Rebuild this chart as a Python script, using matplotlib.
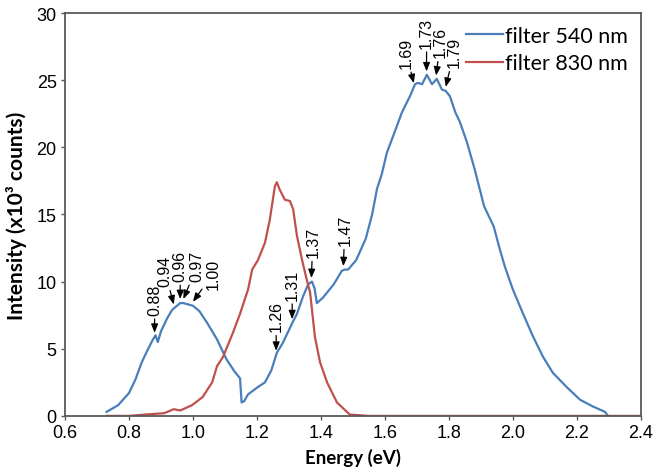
import numpy as np
import matplotlib
matplotlib.use('Agg')
from matplotlib import pyplot

# filter 540 nm (blue) spectrum, energy in eV, intensity in 10^3 counts
energy_540 = [0.73, 0.766, 0.80, 0.82, 0.84, 0.86, 0.875, 0.883, 0.89, 0.90,
              0.92, 0.935, 0.95, 0.96, 0.97, 0.985, 1.00, 1.02, 1.045, 1.075,
              1.105, 1.13, 1.147, 1.152, 1.16, 1.172, 1.20, 1.225, 1.245, 1.262,
              1.28, 1.30, 1.31, 1.325, 1.344, 1.36, 1.372, 1.38, 1.387, 1.406,
              1.44, 1.465, 1.475, 1.485, 1.51, 1.54, 1.56, 1.575, 1.59, 1.606,
              1.625, 1.653, 1.678, 1.694, 1.703, 1.716, 1.731, 1.747, 1.762, 1.778,
              1.79, 1.803, 1.82, 1.834, 1.856, 1.88, 1.91, 1.94, 1.959, 1.975,
              2.00, 2.03, 2.063, 2.094, 2.125, 2.17, 2.21, 2.25, 2.288, 2.297]
intensity_540 = [0.3, 0.8, 1.7, 2.7, 4.0, 5.0, 5.7, 6.0, 5.5, 6.3,
                 7.3, 7.9, 8.2, 8.4, 8.4, 8.3, 8.2, 7.8, 6.9, 5.7,
                 4.2, 3.3, 2.8, 1.0, 1.1, 1.6, 2.1, 2.5, 3.4, 4.7,
                 5.4, 6.4, 6.9, 7.6, 8.9, 9.8, 10.0, 9.5, 8.4, 8.8,
                 9.8, 10.8, 10.9, 10.9, 11.6, 13.2, 15.0, 16.9, 18.0, 19.6,
                 20.8, 22.6, 23.8, 24.7, 24.8, 24.7, 25.4, 24.7, 25.1, 24.3,
                 24.2, 23.8, 22.6, 21.9, 20.4, 18.4, 15.6, 14.1, 12.4, 11.1,
                 9.4, 7.7, 5.9, 4.4, 3.2, 2.1, 1.2, 0.7, 0.3, 0.0]

# filter 830 nm (red) spectrum
energy_830 = [0.73, 0.80, 0.85, 0.91, 0.94, 0.96, 0.997, 1.03, 1.06, 1.075,
              1.094, 1.125, 1.147, 1.172, 1.185, 1.203, 1.225, 1.24, 1.256, 1.262,
              1.27, 1.287, 1.303, 1.313, 1.325, 1.341, 1.356, 1.366, 1.381, 1.397,
              1.419, 1.45, 1.49, 1.55, 2.0, 2.4]
intensity_830 = [0.0, 0.0, 0.1, 0.2, 0.5, 0.4, 0.8, 1.4, 2.5, 3.7,
                 4.4, 6.2, 7.6, 9.4, 10.9, 11.6, 12.9, 14.6, 17.1, 17.4,
                 16.9, 16.1, 16.0, 15.4, 13.4, 11.6, 10.1, 9.2, 5.9, 4.0,
                 2.5, 1.0, 0.1, 0.0, 0.0, 0.0]

# marked peaks on the 540 nm curve
peak_labels = ['0.88', '0.94', '0.96', '0.97', '1.00', '1.26', '1.31',
               '1.37', '1.47', '1.69', '1.73', '1.76', '1.79']

x_ticks = [0.6, 0.8, 1.0, 1.2, 1.4, 1.6, 1.8, 2.0, 2.2, 2.4]
y_ticks = [0, 5, 10, 15, 20, 25, 30]

BLUE = '#4a7ebb'
RED = '#c0504d'
AXIS = '#595959'

# text offsets (points) from the marked point to the bottom of the label
label_offsets = {
    '0.88': (0, 13), '0.94': (-6.5, 13), '0.96': (0, 13), '0.97': (10, 13),
    '1.00': (14.5, 9), '1.26': (0, 14), '1.31': (0, 14), '1.37': (1, 15),
    '1.47': (1, 15), '1.69': (-5.5, 11), '1.73': (0, 17), '1.76': (3, 13),
    '1.79': (6, 14),
}

tick_font = dict(family=['Liberation Sans', 'DejaVu Sans'], size=13)

fig = pyplot.figure(figsize=(6.54, 4.77), dpi=100)
ax = fig.add_axes([0.0994, 0.126, 0.8806, 0.8446])

ax.plot(energy_540, intensity_540, color=BLUE, lw=1.6, label='filter 540 nm')
ax.plot(energy_830, intensity_830, color=RED, lw=1.6, label='filter 830 nm')

for lab in peak_labels:
    e = float(lab)
    i = np.interp(e, energy_540, intensity_540)
    dx, dy = label_offsets[lab]
    ax.annotate(lab, xy=(e, i + 0.3), xytext=(dx, dy), textcoords='offset points',
                rotation=90, ha='center', va='bottom',
                family=['Liberation Sans', 'DejaVu Sans'], fontsize=11.5,
                arrowprops=dict(arrowstyle='-|>,head_length=0.45,head_width=0.18',
                                color='black', lw=0.9, shrinkA=1, shrinkB=0))

ax.set_xlim(0.6, 2.4)
ax.set_ylim(0, 30)
ax.set_xticks(x_ticks)
ax.set_xticklabels(['%.1f' % v for v in x_ticks], fontdict=tick_font)
ax.set_yticks(y_ticks)
ax.set_yticklabels([str(v) for v in y_ticks], fontdict=tick_font)
ax.tick_params(axis='both', direction='out', length=3, width=1, color=AXIS, pad=3)

for side in ['left', 'bottom', 'top', 'right']:
    ax.spines[side].set_color(AXIS)
    ax.spines[side].set_linewidth(1.3)

ax.set_xlabel('Energy (eV)', family=['Lato', 'DejaVu Sans'], size=13.5,
              weight='bold', labelpad=5)
ax.set_ylabel('Intensity (x10³ counts)', family=['Lato', 'DejaVu Sans'], size=15,
              weight='bold', labelpad=7)

leg = ax.legend(loc='upper right', frameon=False,
                prop=dict(family=['Lato', 'DejaVu Sans'], size=15.5),
                handlelength=1.7, handletextpad=0.1, labelspacing=0.35,
                borderaxespad=0.2)

fig.savefig('out.png', dpi=100)
